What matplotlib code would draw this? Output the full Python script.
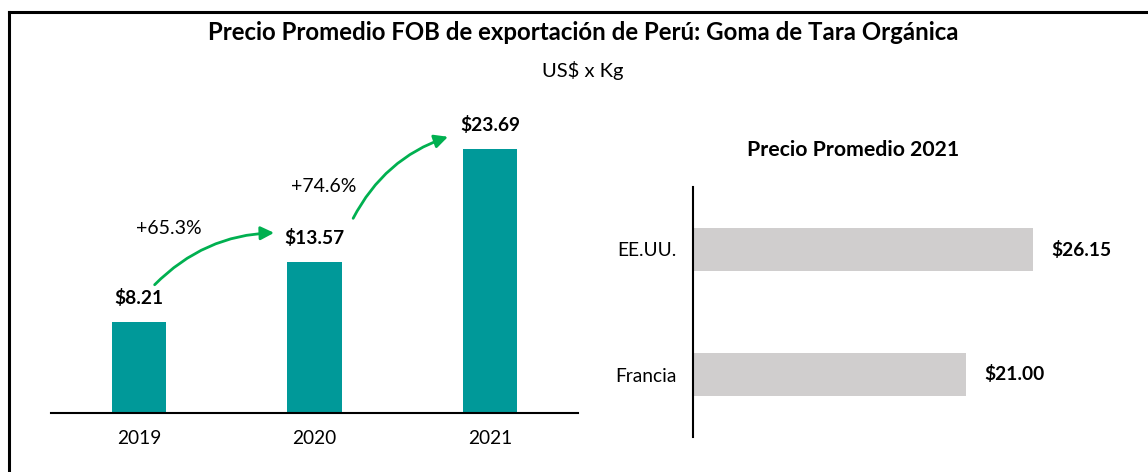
import matplotlib.pyplot as plt
from matplotlib.lines import Line2D

plt.rcParams['font.family'] = ['Lato', 'DejaVu Sans']

years = ['2019', '2020', '2021']
prices = [8.21, 13.57, 23.69]
growth = ['+65.3%', '+74.6%']

countries = ['Francia', 'EE.UU.']
prices_2021 = [21.00, 26.15]

teal = '#009999'
grey = '#D0CECE'
green = '#00B050'

fig = plt.figure(figsize=(11.48, 4.72), dpi=100)

# frame around the whole chart (left and top sides only are visible)
fig.add_artist(Line2D([9 / 1148, 9 / 1148], [0, 1 - 12 / 472], color='black', lw=2.2))
fig.add_artist(Line2D([9 / 1148, 1146 / 1148], [1 - 12 / 472, 1 - 12 / 472], color='black', lw=2.2))

fig.text(583 / 1148, 1 - 32 / 472, 'Precio Promedio FOB de exportación de Perú: Goma de Tara Orgánica',
         ha='center', va='center', fontsize=17.3, fontweight='bold')
fig.text(583 / 1148, 1 - 70 / 472, 'US$ x Kg', ha='center', va='center', fontsize=14.5)

#%% left: yearly average price
ax = fig.add_axes([51 / 1148, 59 / 472, 527 / 1148, 312 / 472])
x = range(len(years))
ax.bar(x, prices, width=0.31, color=teal)
ax.set_xlim(-0.5, 2.5)
ax.set_ylim(0, 28)
ax.set_xticks(list(x))
ax.set_xticklabels(years, fontsize=13.8)
ax.tick_params(axis='x', length=0, pad=12)
ax.set_yticks([])
for s in ['top', 'right', 'left']:
    ax.spines[s].set_visible(False)
ax.spines['bottom'].set_linewidth(1.5)

for i, v in enumerate(prices):
    ax.annotate(f'${v:.2f}', (i, v), xytext=(0, 17), textcoords='offset points',
                ha='center', va='center', fontsize=13.8, fontweight='bold')

# growth arrows between bars
arrow_from = [(0.09, prices[0] + 3.3), (1.22, prices[1] + 3.9)]
arrow_to = [(0.77, prices[1] + 2.6), (1.76, prices[2] + 1.1)]
for a, b in zip(arrow_from, arrow_to):
    ax.annotate('', xy=b, xytext=a,
                arrowprops=dict(arrowstyle='-|>', color=green, lw=2,
                                mutation_scale=20, shrinkA=0, shrinkB=0,
                                connectionstyle='arc3,rad=-0.2'))
ax.text(0.17, 16.6, growth[0], ha='center', va='center', fontsize=14)
ax.text(1.05, 20.3, growth[1], ha='center', va='center', fontsize=14)

#%% right: average price 2021 by country
ax2 = fig.add_axes([693 / 1148, 35 / 472, 390 / 1148, 250 / 472])
ax2.barh(range(len(countries)), prices_2021, height=0.344, color=grey)
ax2.set_xlim(0, 30)
ax2.set_ylim(-0.5, 1.5)
ax2.set_yticks(range(len(countries)))
ax2.set_yticklabels(countries, fontsize=13.8)
ax2.tick_params(axis='y', length=0, pad=12)
ax2.set_xticks([])
for s in ['top', 'right', 'bottom']:
    ax2.spines[s].set_visible(False)
ax2.spines['left'].set_linewidth(1.5)

for i, v in enumerate(prices_2021):
    ax2.annotate(f'${v:.2f}', (v, i), xytext=(13, 0), textcoords='offset points',
                 ha='left', va='center', fontsize=13.8, fontweight='bold')

fig.text(853 / 1148, 1 - 150 / 472, 'Precio Promedio 2021', ha='center', va='center',
         fontsize=15.3, fontweight='bold')

plt.savefig('out.png', dpi=100)
